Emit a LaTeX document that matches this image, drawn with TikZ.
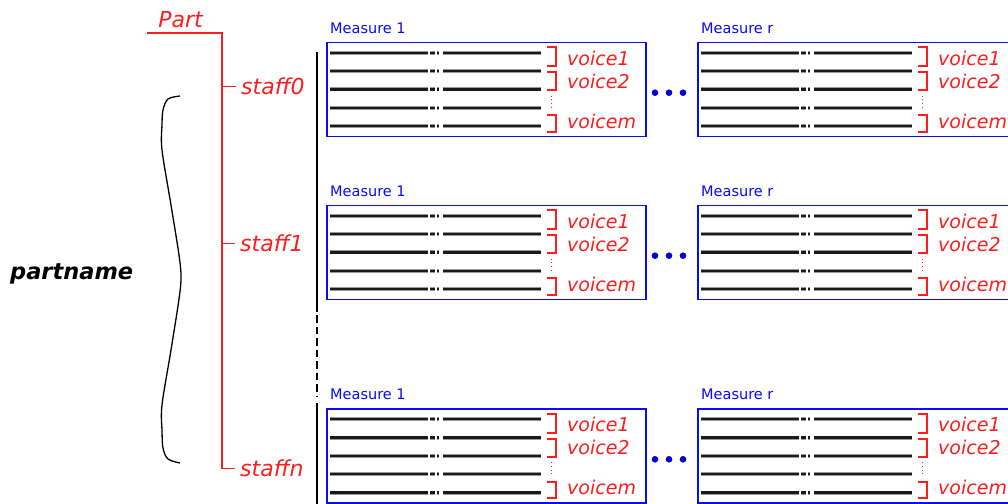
\documentclass[tikz,border=0pt]{standalone}
\usepackage{fontspec}
\setmainfont{DejaVu Sans}
\usetikzlibrary{calc}
\definecolor{treered}{RGB}{250,30,30}
\definecolor{boxblue}{RGB}{10,10,245}
\definecolor{dotblue}{RGB}{0,0,210}
\begin{document}
\begin{tikzpicture}[x=1pt,y=-1pt,
  tree/.style={draw=treered,line width=1.8pt},
  lbl/.style={text=treered,inner sep=0pt,font=\fontsize{22}{26}\selectfont\itshape},
  voicelbl/.style={text=treered,inner sep=0pt,anchor=base west,font=\fontsize{19}{22}\selectfont\itshape},
  bracket/.style={draw=treered,line width=1.8pt},
  vdots/.style={draw=treered,line width=1pt,dash pattern=on 1pt off 2.6pt},
  measurebox/.style={draw=boxblue,line width=1.5pt,inner sep=0pt,minimum width=319pt,minimum height=94pt,anchor=north west},
  measlbl/.style={text=boxblue,inner sep=0pt,anchor=base west,font=\fontsize{14.5}{17}\selectfont},
  staffline/.style={draw=black!90,line width=2.3pt,preaction={draw=black!40,line width=3.8pt}},
  bar/.style={draw=black,line width=2.6pt},
  brace/.style={draw=black,line width=1.3pt}]
\useasboundingbox (0,0) rectangle (1008,503);
\clip (0,0) rectangle (1008,503);

% part / staff tree
\node[lbl,anchor=center] (part) at (180.5,19.5) {Part};
\node[lbl,anchor=west] (staff0) at (241,86.5) {staff0};
\node[lbl,anchor=west] (staff1) at (240,243.5) {staff1};
\node[lbl,anchor=west] (staffn) at (240,468.5) {staffn};
\coordinate (partL) at (147,33);
\coordinate (spineTop) at (222,33);
\coordinate (spineBot) at (222,469.3);
\draw[tree] (partL) -- (spineTop) -- (spineBot);
\foreach \s in {staff0,staff1,staffn}
  \draw[tree] (spineTop |- \s.west) -- ([xshift=-5pt]\s.west);

% part name and its brace
\node[inner sep=0pt,anchor=base west,font=\fontsize{22.5}{26}\selectfont\bfseries\itshape] (partname) at (10,279.5) {partname};
\draw[brace] plot[smooth,tension=0.55] coordinates {(180,96) (168,99) (163,110) (162,125) (162,150) (171,205) (179,255) (181,277) (179,299) (171,350) (162,405) (162,430) (163,448) (168,459) (180,463)};

% system barline
\draw[bar] (317,51.7) -- (317,312);
\draw[bar,dash pattern=on 7.5pt off 4pt] (317,315) -- (317,396);
\draw[bar] (317,403) -- (317,512);

% measures of each staff
\foreach \g/\gy in {0/0,1/163,2/366.6} {
  \pgfmathsetmacro\by{41.7+\gy}
  \foreach \c/\cx in {1/0,r/371} {
    \pgfmathsetmacro\bx{326+\cx}
    \node[measurebox] (box\g\c) at (\bx,\by) {};
    \node[measlbl] (mlab\g\c) at ($(box\g\c.north west)+(4,-8.6)$) {Measure \c};
    \foreach \l in {0,...,4} {
      \pgfmathsetmacro\ly{\by+11+\l*18.33}
      \draw[staffline] (\bx+4,\ly) -- (\bx+102,\ly);
      \draw[staffline] (\bx+104,\ly) -- (\bx+109,\ly);
      \draw[staffline] (\bx+111,\ly) -- (\bx+113,\ly);
      \draw[staffline] (\bx+117,\ly) -- (\bx+215,\ly);
    }
    \draw[bracket] (\bx+221,\by+5.6) -- (\bx+230,\by+5.6) -- (\bx+230,\by+24.3) -- (\bx+221,\by+24.3);
    \draw[bracket] (\bx+221,\by+30.6) -- (\bx+230,\by+30.6) -- (\bx+230,\by+48.3) -- (\bx+221,\by+48.3);
    \draw[vdots] (\bx+225.7,\by+54) -- (\bx+225.7,\by+67);
    \draw[bracket] (\bx+221,\by+73.3) -- (\bx+230,\by+73.3) -- (\bx+230,\by+90) -- (\bx+221,\by+90);
    \node[voicelbl] (v1\g\c) at (\bx+241,\by+23.3) {voice1};
    \node[voicelbl] (v2\g\c) at (\bx+241,\by+46.6) {voice2};
    \node[voicelbl] (vm\g\c) at (\bx+241,\by+86.6) {voicem};
  }
  \foreach \dx in {329,343,357}
    \fill[dotblue] (326+\dx,\by+51) circle (3.3pt);
}
\end{tikzpicture}
\end{document}
